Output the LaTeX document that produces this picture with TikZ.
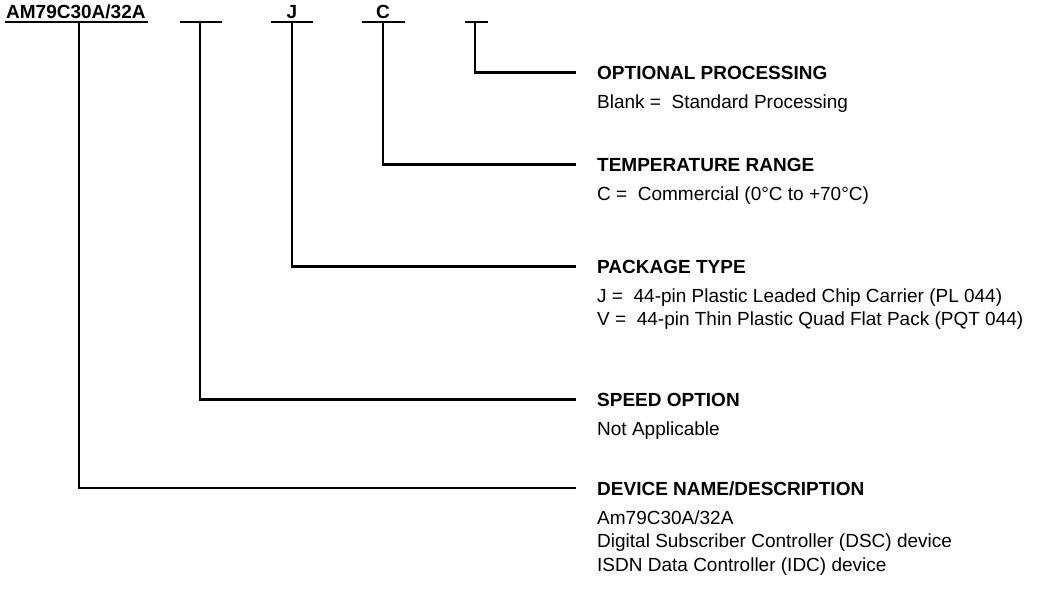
\documentclass[tikz,border=0pt]{standalone}
\usepackage{fontspec}
\setmainfont{Liberation Sans}
\begin{document}
\begin{tikzpicture}[x=1pt,y=-1pt,
  lead/.style={line width=2.2pt},
  head/.style={font=\fontsize{19}{23}\selectfont\bfseries, anchor=base west, inner sep=0pt},
  desc/.style={font=\fontsize{19}{23}\selectfont, anchor=base west, inner sep=0pt}]
\useasboundingbox (0,0) rectangle (1039,592);
% top code
\node[head] (title) at (6,18) {AM79C30A/32A};
\node[head, anchor=base] (lj) at (292,18) {J};
\node[head, anchor=base] (lc) at (383,18) {C};
% bars
\coordinate (u0l) at (5,22);   \coordinate (u0r) at (148,22);  \coordinate (t0) at (79,22);
\coordinate (u1l) at (180,22); \coordinate (u1r) at (222,22);  \coordinate (t1) at (200,22);
\coordinate (u2l) at (271,22); \coordinate (u2r) at (313,22);  \coordinate (t2) at (292,22);
\coordinate (u3l) at (362,22); \coordinate (u3r) at (405,22);  \coordinate (t3) at (383,22);
\coordinate (u4l) at (465,22); \coordinate (u4r) at (488,22);  \coordinate (t4) at (475,22);
\draw[lead] (u0l) -- (u0r);
\draw[lead] (u1l) -- (u1r);
\draw[lead] (u2l) -- (u2r);
\draw[lead] (u3l) -- (u3r);
\draw[lead] (u4l) -- (u4r);
% headings
\node[head] (hopt) at (597,79) {OPTIONAL PROCESSING};
\node[desc] (dopt) at (597,108) {Blank = \ Standard Processing};
\node[head] (htemp) at (597,171) {TEMPERATURE RANGE};
\node[desc] (dtemp) at (597,200) {C = \ Commercial (0°C to +70°C)};
\node[head] (hpkg) at (597,273) {PACKAGE TYPE};
\node[desc] (dpkg1) at (597,302) {J = \ 44-pin Plastic Leaded Chip Carrier (PL 044)};
\node[desc] (dpkg2) at (597,325.5) {V = \ 44-pin Thin Plastic Quad Flat Pack (PQT 044)};
\node[head] (hspd) at (597,406) {SPEED OPTION};
\node[desc] (dspd) at (597,435) {Not Applicable};
\node[head] (hdev) at (597,495) {DEVICE NAME/DESCRIPTION};
\node[desc] (ddev1) at (597,524) {Am79C30A/32A};
\node[desc] (ddev2) at (597,547.5) {Digital Subscriber Controller (DSC) device};
\node[desc] (ddev3) at (597,571) {ISDN Data Controller (IDC) device};
% leaders
\draw[lead] (t4) |- ([xshift=-21pt]hopt.west);
\draw[lead] (t3) |- ([xshift=-21pt]htemp.west);
\draw[lead] (t2) |- ([xshift=-21pt]hpkg.west);
\draw[lead] (t1) |- ([xshift=-21pt]hspd.west);
\draw[lead] (t0) |- ([xshift=-21pt]hdev.west);
\end{tikzpicture}
\end{document}
